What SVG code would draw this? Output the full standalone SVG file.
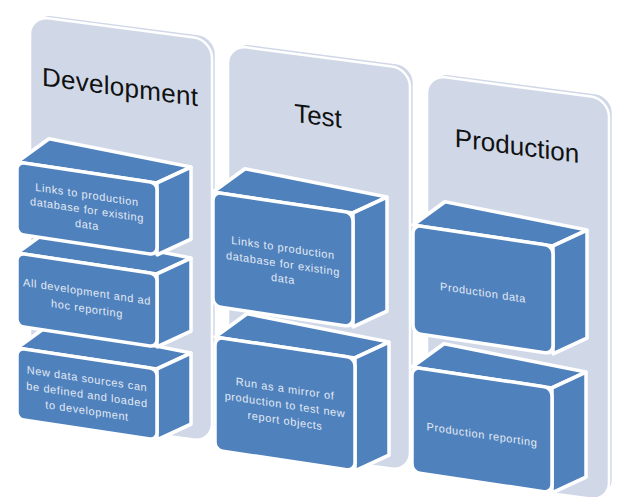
<svg xmlns="http://www.w3.org/2000/svg" width="617" height="497" viewBox="0 0 617 497">
<style>
.panel{fill:#D0D8E8;stroke:#fff;stroke-width:2.5}
.face{fill:#4F81BD;stroke:#fff;stroke-width:3.5;stroke-linejoin:round}
.title{font-family:"Liberation Sans",Arial,sans-serif;font-size:26px;fill:#111;text-anchor:middle}
.lbl{font-family:"Liberation Sans",Arial,sans-serif;font-size:11px;fill:#E2E9F3;text-anchor:middle;letter-spacing:0.6px}
</style>
<rect width="617" height="497" fill="#fff"/>
<g id="panel-development" transform="translate(30,16) skewY(7.5)">
<rect class="panel" x="4" y="-4" width="182" height="402" rx="18"/>
<rect class="panel" x="0" y="0" width="182" height="402" rx="18"/>
<text class="title" x="90" y="68" textLength="156" lengthAdjust="spacing">Development</text>
</g>
<g id="panel-test" transform="translate(228,45) skewY(7.5)">
<rect class="panel" x="4" y="-4" width="182" height="402" rx="18"/>
<rect class="panel" x="0" y="0" width="182" height="402" rx="18"/>
<text class="title" x="90" y="68">Test</text>
</g>
<g id="panel-production" transform="translate(427,75) skewY(7.5)">
<rect class="panel" x="4" y="-4" width="182" height="402" rx="18"/>
<rect class="panel" x="0" y="0" width="182" height="402" rx="18"/>
<text class="title" x="90" y="68">Production</text>
</g>
<g id="dev-3" transform="translate(17,348) skewY(8.5)">
<polygon class="face" points="0,0 32,-28 174,-21 140,0"/>
<polygon class="face" points="140,0 174,-21 174,50 140,71"/>
<rect class="face" width="140" height="71" rx="7"/>
<text class="lbl"><tspan x="70" y="24">New data sources can</tspan><tspan x="70" y="40">be defined and loaded</tspan><tspan x="70" y="56">to development</tspan></text>
</g>
<g id="dev-2" transform="translate(17,253) skewY(8.5)">
<polygon class="face" points="0,0 32,-28 174,-21 140,0"/>
<polygon class="face" points="140,0 174,-21 174,52 140,73"/>
<rect class="face" width="140" height="73" rx="7"/>
<text class="lbl"><tspan x="70" y="32">All development and ad</tspan><tspan x="70" y="49">hoc reporting</tspan></text>
</g>
<g id="dev-1" transform="translate(17,162) skewY(8.5)">
<polygon class="face" points="0,0 32,-28 174,-21 140,0"/>
<polygon class="face" points="140,0 174,-21 174,51 140,72"/>
<rect class="face" width="140" height="72" rx="7"/>
<text class="lbl"><tspan x="70" y="26">Links to production</tspan><tspan x="70" y="41">database for existing</tspan><tspan x="70" y="56">data</tspan></text>
</g>
<g id="test-2" transform="translate(215,337) skewY(8.5)">
<polygon class="face" points="0,0 32,-28 174,-21 140,0"/>
<polygon class="face" points="140,0 174,-21 174,92 140,113"/>
<rect class="face" width="140" height="113" rx="8"/>
<text class="lbl"><tspan x="70" y="45">Run as a mirror of</tspan><tspan x="70" y="61">production to test new</tspan><tspan x="70" y="77">report objects</tspan></text>
</g>
<g id="test-1" transform="translate(213,192) skewY(8.5)">
<polygon class="face" points="0,0 32,-28 174,-21 140,0"/>
<polygon class="face" points="140,0 174,-21 174,93 140,114"/>
<rect class="face" width="140" height="114" rx="8"/>
<text class="lbl"><tspan x="70" y="49">Links to production</tspan><tspan x="70" y="65">database for existing</tspan><tspan x="70" y="80">data</tspan></text>
</g>
<g id="prod-2" transform="translate(412,367) skewY(8.5)">
<polygon class="face" points="0,0 32,-28 174,-21 140,0"/>
<polygon class="face" points="140,0 174,-21 174,84 140,105"/>
<rect class="face" width="140" height="105" rx="8"/>
<text class="lbl"><tspan x="70" y="61">Production reporting</tspan></text>
</g>
<g id="prod-1" transform="translate(413,225) skewY(8.5)">
<polygon class="face" points="0,0 32,-28 174,-21 140,0"/>
<polygon class="face" points="140,0 174,-21 174,87 140,108"/>
<rect class="face" width="140" height="108" rx="8"/>
<text class="lbl"><tspan x="70" y="61">Production data</tspan></text>
</g>
</svg>
